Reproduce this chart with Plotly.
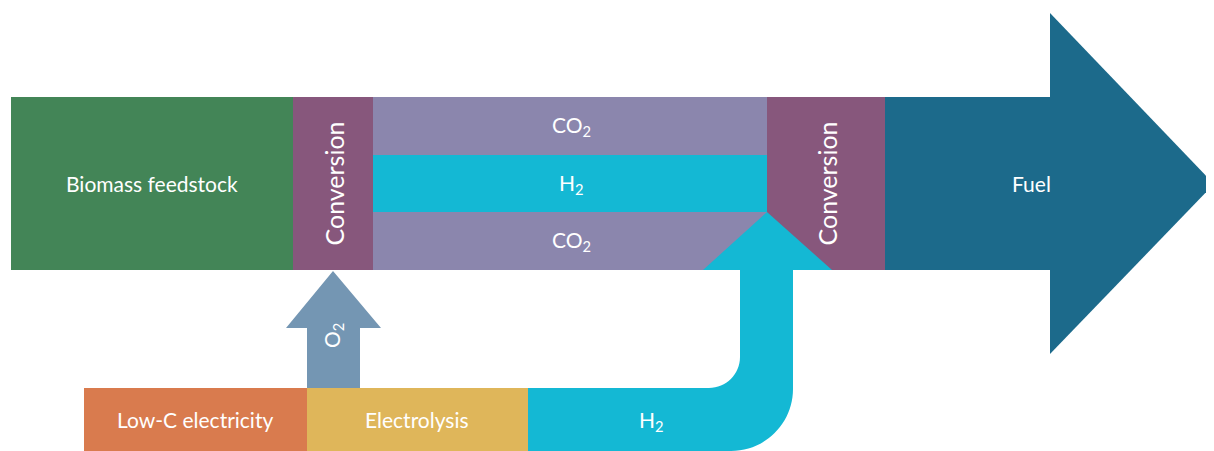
import plotly.graph_objects as go

W, H = 1214, 451
OFF = 8  # page body margin offset

# Boxes: (label, x0, x1, y0, y1, color)
box_labels = ["Biomass feedstock", "", "CO<sub>2</sub>", "H<sub>2</sub>", "CO<sub>2</sub>", "", "Fuel",
              "Low-C electricity", "Electrolysis"]
box_x0 = [11, 293, 373, 373, 373, 767, 885, 84, 307]
box_x1 = [293, 373, 767, 767, 767, 885, 1051, 307, 528]
box_y0 = [97, 97, 97, 155, 212, 97, 97, 388, 388]
box_y1 = [270, 270, 155, 212, 270, 270, 270, 451, 451]
box_colors = ["#438557", "#87577c", "#8b86ad", "#14b8d4", "#8b86ad", "#87577c", "#1c6a8b",
              "#d97b4e", "#dfb65a"]
label_x = [152, None, 571, 571, 571, None, 1031, 195, 417]

# Fuel arrow head
fuel_head_x = [1050, 1214, 1050]
fuel_head_y = [13, 184, 354]

# O2 arrow
o2_head = dict(tip=(333, 271), base_y=328, left=286, right=381)
o2_stem = dict(x0=307, x1=360, y0=328, y1=388)

# H2 curved arrow
h2 = dict(x_start=528, top=388, bottom=451, stem_l=740, stem_r=793, head_base=270,
          head_l=703, head_r=832, tip=(767, 212), r_in=31, r_out=62)

FONT = "Lato, 'Open Sans', sans-serif"

fig = go.Figure()
shapes = []
for lab, x0, x1, y0, y1, c in zip(box_labels, box_x0, box_x1, box_y0, box_y1, box_colors):
    shapes.append(dict(type="rect", x0=x0, x1=x1, y0=y0, y1=y1, fillcolor=c,
                       line=dict(width=0), layer="below"))

# fuel head
p = "M %d,%d L %d,%d L %d,%d Z" % (fuel_head_x[0], fuel_head_y[0], fuel_head_x[1], fuel_head_y[1],
                                   fuel_head_x[2], fuel_head_y[2])
shapes.append(dict(type="path", path=p, fillcolor="#1c6a8b", line=dict(width=0), layer="below"))

# O2 arrow
tx, ty = o2_head["tip"]
p = ("M %d,%d L %d,%d L %d,%d L %d,%d L %d,%d L %d,%d L %d,%d Z" %
     (o2_stem["x0"], o2_stem["y1"], o2_stem["x0"], o2_head["base_y"], o2_head["left"], o2_head["base_y"],
      tx, ty, o2_head["right"], o2_head["base_y"], o2_stem["x1"], o2_head["base_y"],
      o2_stem["x1"], o2_stem["y1"]))
shapes.append(dict(type="path", path=p, fillcolor="#7496b3", line=dict(width=0), layer="below"))

# H2 curved arrow
k = 0.5523
ri, ro = h2["r_in"], h2["r_out"]
sl, sr = h2["stem_l"], h2["stem_r"]
top, bot = h2["top"], h2["bottom"]
p = (f"M {h2['x_start']},{top} L {sl-ri},{top} "
     f"C {sl-ri+k*ri},{top} {sl},{top-ri+k*ri} {sl},{top-ri} "
     f"L {sl},{h2['head_base']} L {h2['head_l']},{h2['head_base']} L {h2['tip'][0]},{h2['tip'][1]} "
     f"L {h2['head_r']},{h2['head_base']} L {sr},{h2['head_base']} L {sr},{bot-ro} "
     f"C {sr},{bot-ro+k*ro} {sr-ro+k*ro},{bot} {sr-ro},{bot} "
     f"L {h2['x_start']},{bot} Z")
shapes.append(dict(type="path", path=p, fillcolor="#14b8d4", line=dict(width=0), layer="below"))

annotations = []
for lab, lx, y0, y1 in zip(box_labels, label_x, box_y0, box_y1):
    if not lab:
        continue
    annotations.append(dict(x=lx, y=(y0 + y1) / 2, text=lab,
                            showarrow=False, font=dict(family=FONT, size=21, color="white")))
for cx in [333, 826]:
    annotations.append(dict(x=cx, y=183.5, text="Conversion", textangle=-90, showarrow=False,
                            font=dict(family=FONT, size=25, color="white")))
annotations.append(dict(x=333, y=336, text="O<sub>2</sub>", textangle=-90, showarrow=False,
                        font=dict(family=FONT, size=21, color="white")))
annotations.append(dict(x=651, y=421, text="H<sub>2</sub>", showarrow=False,
                        font=dict(family=FONT, size=21, color="white")))

fig.update_layout(
    width=W, height=H, margin=dict(l=0, r=0, t=0, b=0),
    paper_bgcolor="white", plot_bgcolor="white",
    xaxis=dict(range=[OFF, W + OFF], visible=False, fixedrange=True),
    yaxis=dict(range=[H + OFF, OFF], visible=False, fixedrange=True),
    shapes=shapes, annotations=annotations, showlegend=False,
)
fig.write_html("out.html")
